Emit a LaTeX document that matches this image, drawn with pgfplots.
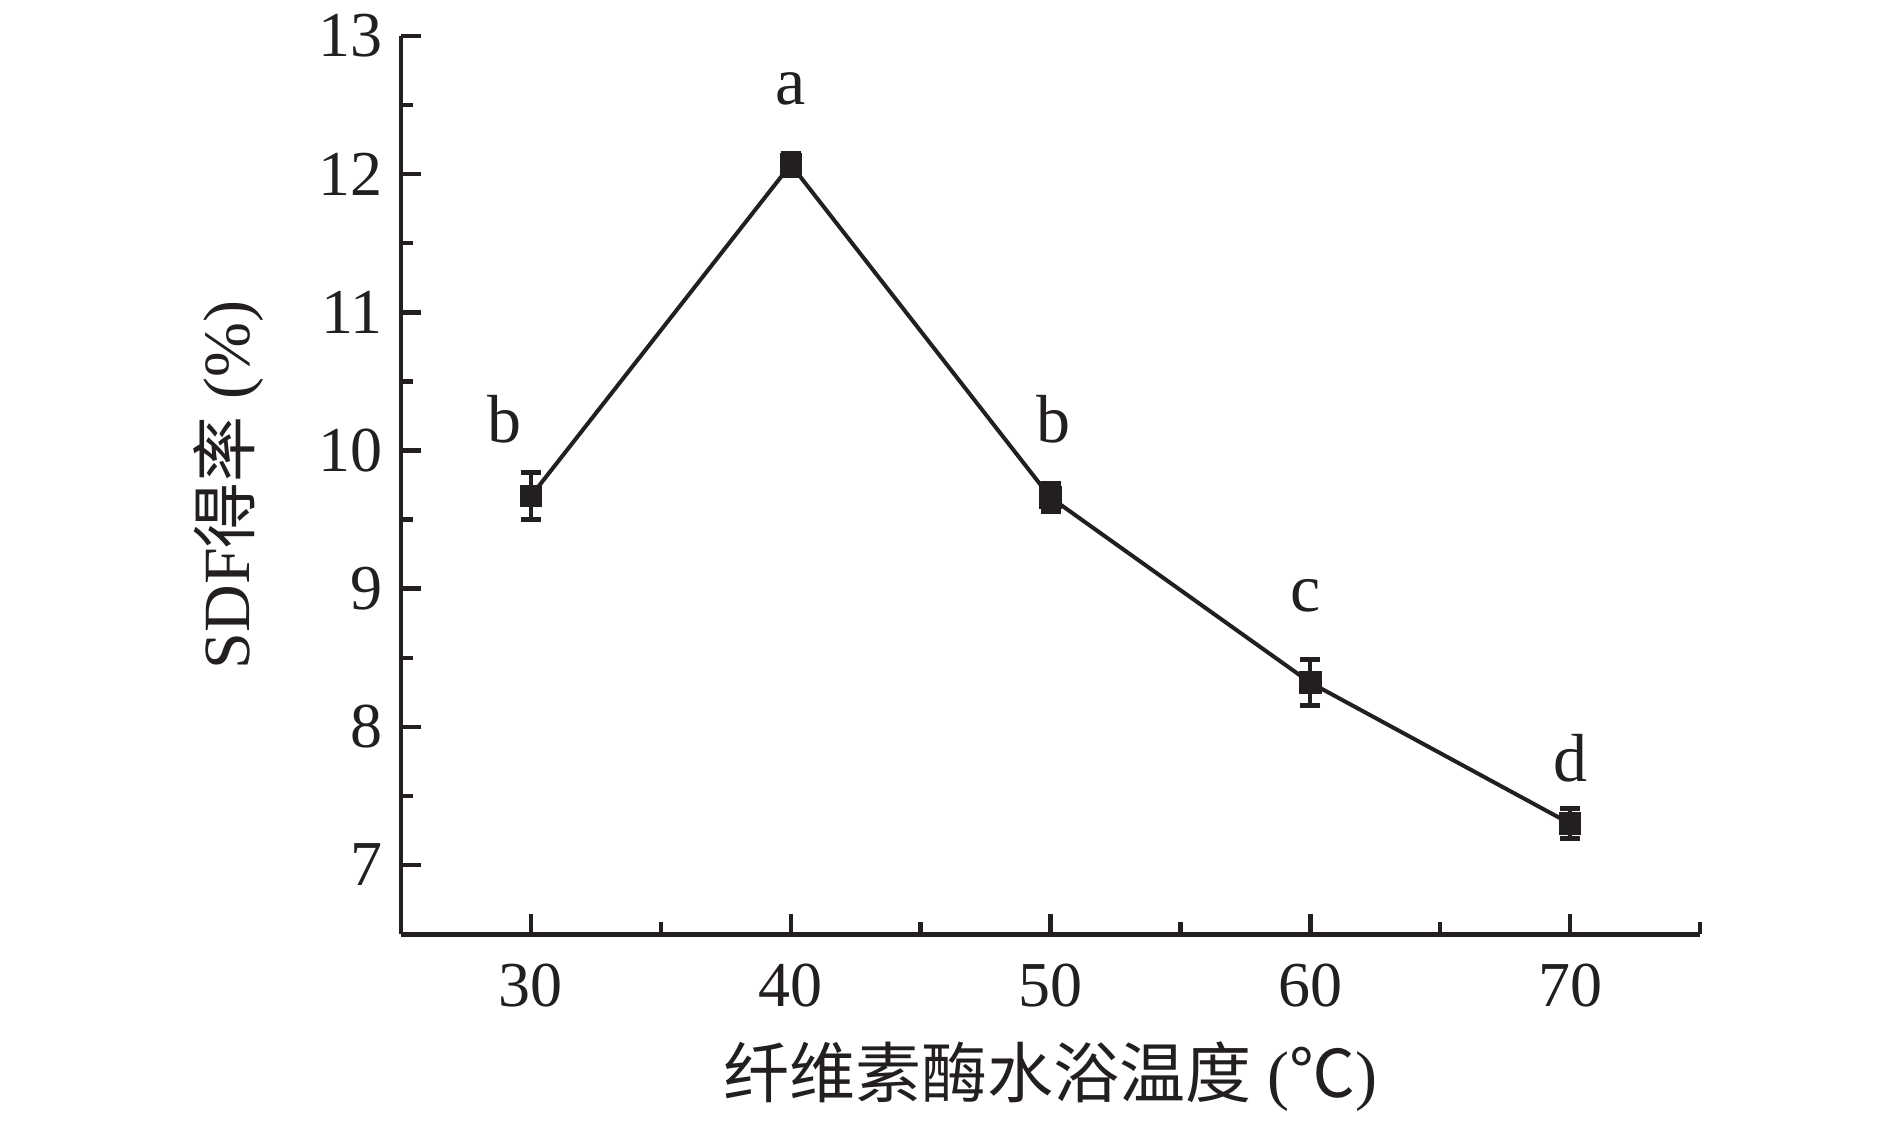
\documentclass[border=0pt]{standalone}
\usepackage{fontspec}
\setmainfont{Liberation Serif}
\newfontfamily\cjk{Noto Sans CJK SC}
\usepackage{pgfplots}
\pgfplotsset{compat=1.18}
\definecolor{ink}{HTML}{231F20}

\begin{document}
\begin{tikzpicture}
\begin{axis}[
    scale only axis,
    width=324.7pt, height=224.5pt,
    xmin=25, xmax=75, ymin=6.5, ymax=13,
    axis x line=bottom, axis y line=left,
    axis line style={-, line width=1.2pt, color=ink},
    xtick={30,40,...,70}, minor xtick={25,35,...,75},
    ytick={7,...,13}, minor ytick={6.5,7.5,...,12.5},
    tick align=inside,
    major tick length=5pt, minor tick length=3pt,
    tick style={line width=1.1pt, color=ink},
    ticklabel style={font=\fontsize{16}{18}\selectfont, color=ink},
    /pgf/number format/assume math mode=true,
    xticklabel style={yshift=-4pt},
    yticklabel style={xshift=-1pt},
    label style={font=\fontsize{16.5}{19}\selectfont, color=ink},
    xlabel={{\cjk 纤维素酶水浴温度} ({\cjk ℃})},
    ylabel={SDF{\cjk 得率} (\%)},
    xlabel style={at={(rel axis cs:0.5,0)}, anchor=center, yshift=-35.5pt},
    ylabel style={at={(rel axis cs:0,0.5)}, anchor=center, yshift=43pt},
    clip=false,
]
\addplot[color=ink, line width=1pt, mark=square*, mark size=2.3pt,
    error bars/.cd, y dir=both, y explicit,
    error bar style={line width=1pt, color=ink},
    error mark options={rotate=90, mark size=2.5pt, line width=1.2pt, color=ink}]
coordinates {
    (30, 9.67) +- (0, 0.17)
    (40, 12.07) +- (0, 0.08)
    (50, 9.66) +- (0, 0.10)
    (60, 8.32) +- (0, 0.165)
    (70, 7.30) +- (0, 0.11)
};

\node[font=\fontsize{17}{19}\selectfont, color=ink] at (axis cs:29,10.23) {b};
\node[font=\fontsize{17}{19}\selectfont, color=ink] at (axis cs:40,12.62) {a};
\node[font=\fontsize{17}{19}\selectfont, color=ink] at (axis cs:50.1,10.23) {b};
\node[font=\fontsize{17}{19}\selectfont, color=ink] at (axis cs:59.8,8.95) {c};
\node[font=\fontsize{17}{19}\selectfont, color=ink] at (axis cs:70,7.77) {d};

\path[use as bounding box] (rel axis cs:0,0) ++(-100.25pt,-48.5pt) rectangle (rel axis cs:1,1) ++(47.5pt,9pt);
\end{axis}
\end{tikzpicture}
\end{document}
